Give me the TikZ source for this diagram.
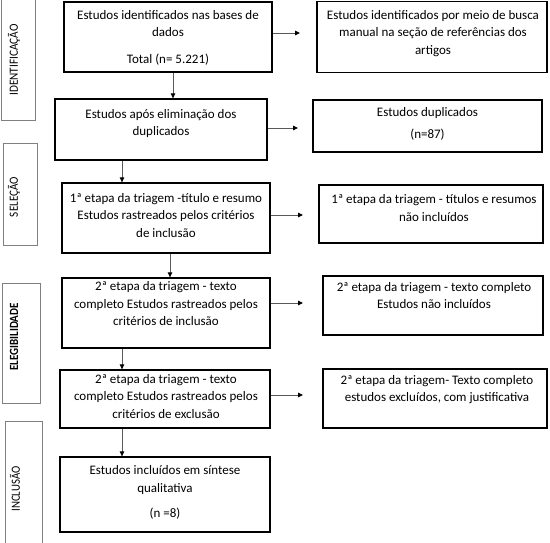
\documentclass[tikz,border=0pt]{standalone}
\usepackage{fontspec}
\setmainfont{Carlito}
\usetikzlibrary{arrows.meta}
\begin{document}
\begin{tikzpicture}[x=1pt,y=-1pt,
  box/.style={draw=black,line width=1.3pt,inner sep=0pt,fill=none},
  side/.style={draw=gray,line width=0.7pt,inner sep=0pt},
  txt/.style={align=center,inner sep=0pt,font=\fontsize{13}{17.5}\selectfont},
  lab/.style={rotate=90,inner sep=0pt,font=\fontsize{12.5}{14}\selectfont},
  arr/.style={draw=black!65,line width=0.9pt,-{Triangle[length=5pt,width=4.5pt,color=black]}},
  ln/.style={draw=black!65,line width=0.9pt}]
\useasboundingbox (0,0) rectangle (550,543);
% side boxes
\node[side,minimum width=34,minimum height=126] (s1) at (18,57) {};
\node[side,minimum width=34,minimum height=102] (s2) at (20,194) {};
\node[side,minimum width=38,minimum height=120] (s3) at (21,343) {};
\node[side,minimum width=37,minimum height=124] (s4) at (23.5,483) {};
\node[lab] (l1) at (14,60) {\scalebox{0.9}[1]{IDENTIFICAÇÃO}};
\node[lab] (l2) at (14,197) {\scalebox{0.89}[1]{SELEÇÃO}};
\node[lab,font=\fontsize{12.5}{14}\selectfont\bfseries] (l3) at (14,337) {\scalebox{0.88}[1]{ELEGIBILIDADE}};
\node[lab] (l4) at (15,489) {\scalebox{0.87}[1]{INCLUSÃO}};
% main boxes
\node[box,minimum width=208,minimum height=70] (b1) at (168,37) {};
\node[txt] (t1) at (168,37.5) {Estudos identificados nas bases de\\dados\\[9pt]Total (n= 5.221)};
\node[box,minimum width=230,minimum height=71] (r1) at (432,37) {};
\node[txt] (tr1) at (433,33.5) {Estudos identificados por meio de busca\\manual na seção de referências dos\\artigos};
\node[box,minimum width=212,minimum height=61] (b2) at (161,129.5) {};
\node[txt] (t2) at (161,123.5) {Estudos após eliminação dos\\duplicados};
\node[box,minimum width=229,minimum height=52] (r2) at (427.5,126) {};
\node[txt] (tr2) at (427.5,124) {Estudos duplicados\\[4pt](n=87)};
\node[box,minimum width=208,minimum height=70] (b3) at (166,218) {};
\node[txt] (t3) at (166,215.5) {1ª etapa da triagem -título e resumo\\Estudos rastreados pelos critérios\\de inclusão};
\node[box,minimum width=224,minimum height=58] (r3) at (431,214) {};
\node[txt] (tr3) at (434,208) {1ª etapa da triagem - títulos e resumos\\não incluídos};
\node[box,minimum width=208,minimum height=70] (b4) at (166,313) {};
\node[txt] (t4) at (166,304) {2ª etapa da triagem - texto\\completo Estudos rastreados pelos\\critérios de inclusão};
\node[box,minimum width=220,minimum height=59] (r4) at (433,305.5) {};
\node[txt] (tr4) at (434,295.5) {2ª etapa da triagem - texto completo\\Estudos não incluídos};
\node[box,minimum width=210,minimum height=58] (b5) at (165,399) {};
\node[txt] (t5) at (166,396.5) {2ª etapa da triagem - texto\\completo Estudos rastreados pelos\\critérios de exclusão};
\node[box,minimum width=224,minimum height=59] (r5) at (435,398.5) {};
\node[txt] (tr5) at (437,389.5) {2ª etapa da triagem- Texto completo\\estudos excluídos, com justificativa};
\node[box,minimum width=210,minimum height=75] (b6) at (165,494.5) {};
\node[txt] (t6) at (165,492.5) {Estudos incluídos em síntese\\qualitativa\\[8pt](n =8)};
% free ends
\coordinate (e1) at (300,33);
\coordinate (e2) at (298,128);
\coordinate (e3) at (303,215);
\coordinate (e4) at (303,303);
\coordinate (e5) at (303,395);
% connectors
\draw[arr] (b1.south -| 173,0) -- (b2.north -| 173,0);
\draw[arr] (b1.east |- e1) -- (e1);
\draw[arr] (b2.east |- e2) -- (e2);
\draw[arr] (b2.south -| 122,0) -- (b3.north -| 122,0);
\draw[arr] (b3.east |- e3) -- (e3);
\draw[arr] (b3.south -| 170,0) -- (b4.north -| 170,0);
\draw[arr] (b4.east |- e4) -- (e4);
\draw[arr] (b4.south -| 122,0) -- (b5.north -| 122,0);
\draw[arr] (b5.east |- e5) -- (e5);
\draw[arr] (b5.south -| 122,0) -- (b6.north -| 122,0);
\end{tikzpicture}
\end{document}
